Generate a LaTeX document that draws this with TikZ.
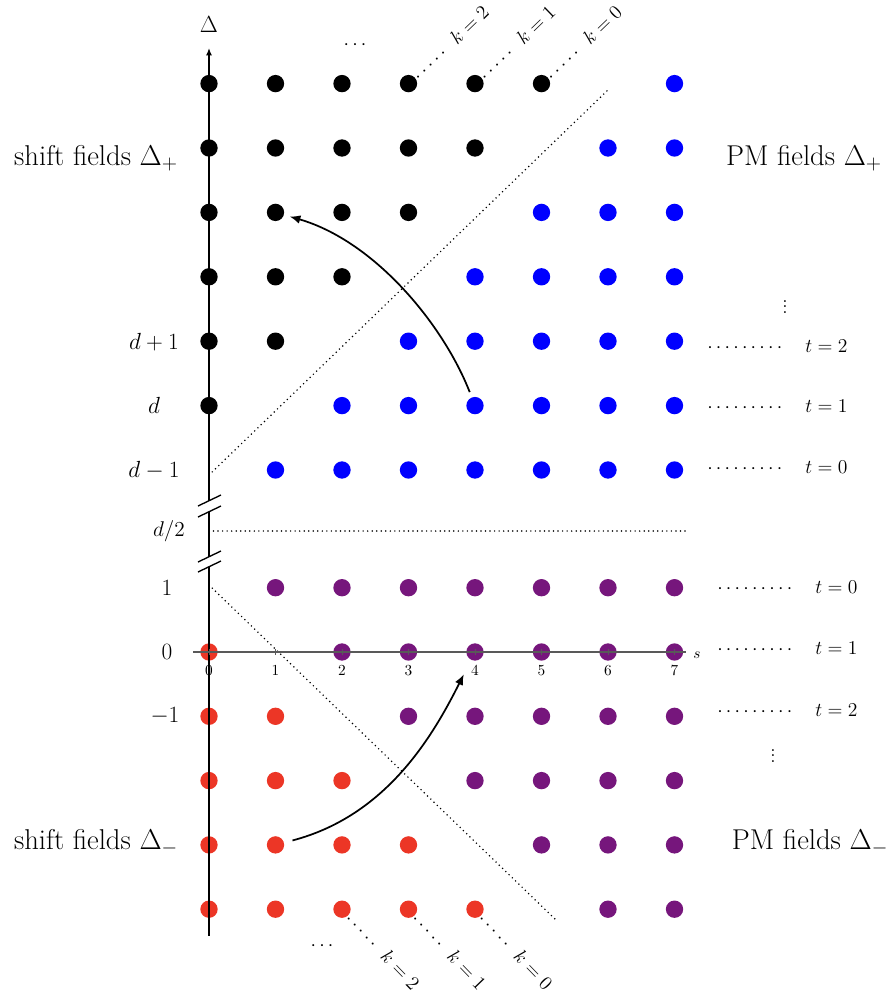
\RequirePackage{fix-cm}
\documentclass[tikz,border=0pt]{standalone}
\usetikzlibrary{arrows.meta}
\definecolor{pmblue}{RGB}{0,0,255}
\definecolor{pmpurple}{RGB}{118,22,124}
\definecolor{shred}{RGB}{236,54,38}
\pgfdeclarelayer{bg}
\pgfsetlayers{bg,main}
\tikzset{
  dotnode/.style={circle, inner sep=0pt, minimum size=13pt, draw=none},
  blackdot/.style={dotnode, fill=black},
  bluedot/.style={dotnode, fill=pmblue},
  purpledot/.style={dotnode, fill=pmpurple},
  reddot/.style={dotnode, fill=shred},
  dotline/.style={line width=1.25pt, line cap=round, dash pattern=on 0pt off 3.4pt},
  axisline/.style={line width=1pt},
  haxis/.style={line width=1pt, draw=black!65},
  curvearrow/.style={line width=1.3pt, -{Latex[length=8pt,width=6.5pt]}},
  bigtext/.style={font=\fontsize{21.5}{26}\selectfont},
  axlabel/.style={font=\fontsize{17.5}{21}\selectfont},
  smalllabel/.style={font=\fontsize{14.7}{18}\selectfont, inner sep=0pt},
  ticklabel/.style={font=\fontsize{11.5}{13}\selectfont, inner sep=0pt},
}
\begin{document}
\begin{tikzpicture}[x=0.75pt,y=-0.75pt]
\useasboundingbox (0,0) rectangle (892,1000);

% grid dots, upper part (rows d-1 ... d+5)
\foreach \r in {0,...,6}{
  \foreach \s in {0,...,7}{
    \ifnum\s<\r \node[blackdot] (u\s-\r) at ({209+66.5*\s},{470-64.4*\r}) {};\fi
    \ifnum\s>\r \node[bluedot] (u\s-\r) at ({209+66.5*\s},{470-64.4*\r}) {};\fi
  }
}
% grid dots, lower part (rows 1 ... -4)
\foreach \m in {0,...,5}{
  \foreach \s in {0,...,7}{
    \ifnum\s<\m \node[reddot] (l\s-\m) at ({209+66.5*\s},{587.7+64.3*\m}) {};\fi
    \ifnum\s>\m \node[purpledot] (l\s-\m) at ({209+66.5*\s},{587.7+64.3*\m}) {};\fi
  }
}

% k labels (under the dots)
\begin{pgfonlayer}{bg}
\node[smalllabel, rotate=44, anchor=west] (ku2) at (u3-6.center) {$\cdots\cdots\;\,k=2$};
\node[smalllabel, rotate=44, anchor=west] (ku1) at (u4-6.center) {$\cdots\cdots\;\,k=1$};
\node[smalllabel, rotate=44, anchor=west] (ku0) at (u5-6.center) {$\cdots\cdots\;\,k=0$};
\node[smalllabel, rotate=-46, anchor=west] (kl2) at (l2-5.center) {$\cdots\cdots\;\,k=2$};
\node[smalllabel, rotate=-46, anchor=west] (kl1) at (l3-5.center) {$\cdots\cdots\;\,k=1$};
\node[smalllabel, rotate=-46, anchor=west] (kl0) at (l4-5.center) {$\cdots\cdots\;\,k=0$};
\end{pgfonlayer}
\node[smalllabel] (hdotsu) at (355,45) {$\cdots$};
\node[smalllabel] (hdotsl) at (322,946) {$\cdots$};

% diagonal separating lines
\coordinate (du1) at (209,475);
\coordinate (du2) at (610,88);
\coordinate (dl1) at (209,585);
\coordinate (dl2) at (555,919);
\draw[dotline] (du1) -- (du2);
\draw[dotline] (dl1) -- (dl2);

% d/2 line
\coordinate (h1) at (209,531);
\coordinate (h2) at (685,531);
\draw[dotline] (h1) -- (h2);

% vertical axis with breaks
\coordinate (ytop) at (209,48);
\coordinate (b1) at (209,500.5);
\coordinate (b2) at (209,511.5);
\coordinate (b3) at (209,556.5);
\coordinate (b4) at (209,566.5);
\coordinate (ybot) at (209,936);
\draw[axisline, -{Latex[length=5.5pt,width=4.5pt]}] (b1) -- (ytop);
\draw[axisline] (b2) -- (b3);
\draw[axisline] (b4) -- (ybot);
\foreach \b in {b1,b2,b3,b4}{
  \draw[axisline] ([shift={(-11,5.5)}]\b) -- ([shift={(12,-5.5)}]\b);
}
\node[axlabel] (ylab) at (209,25) {$\Delta$};

% horizontal axis
\coordinate (xl) at (193,652);
\coordinate (xr) at (686,652);
\draw[haxis] (xl) -- (xr);
\foreach \s in {0,...,7}{
  \draw[haxis, line width=0.7pt] ({209+66.5*\s},649) -- ({209+66.5*\s},655);
  \node[ticklabel] (tick\s) at ({209+66.5*\s},670.5) {$\s$};
}
\node[ticklabel] (xlab) at (697,655) {$s$};

% Delta labels
\node[axlabel] (lab-dp1) at (154,341.7) {$d+1$};
\node[axlabel] (lab-d) at (154,405.5) {$d$};
\node[axlabel] (lab-dm1) at (154,470) {$d-1$};
\node[axlabel, font=\fontsize{16}{18}\selectfont] (lab-d2) at (169,531) {$d/2$};
\node[axlabel] (lab-1) at (167,587.7) {$1$};
\node[axlabel] (lab-0) at (167,652) {$0$};
\node[axlabel] (lab-m1) at (165,716) {$-1$};

% t labels
\node[smalllabel, anchor=west] (tu2) at (707,346.6) {$\cdots\cdots\cdots\quad t=2$};
\node[smalllabel, anchor=west] (tu1) at (707,406.6) {$\cdots\cdots\cdots\quad t=1$};
\node[smalllabel, anchor=west] (tu0) at (707,467.6) {$\cdots\cdots\cdots\quad t=0$};
\node[smalllabel, anchor=west] (tl0) at (717,587) {$\cdots\cdots\cdots\quad t=0$};
\node[smalllabel, anchor=west] (tl1) at (717,648) {$\cdots\cdots\cdots\quad t=1$};
\node[smalllabel, anchor=west] (tl2) at (717,710) {$\cdots\cdots\cdots\quad t=2$};
\node[smalllabel] (vdu) at (785,303) {$\vdots$};
\node[smalllabel] (vdl) at (773,752) {$\vdots$};

% big labels
\node[bigtext] (shp) at (96,158) {shift fields $\Delta_+$};
\node[bigtext] (pmp) at (804,158) {PM fields $\Delta_+$};
\node[bigtext] (shm) at (96,842) {shift fields $\Delta_-$};
\node[bigtext] (pmm) at (810,842) {PM fields $\Delta_-$};

% curved arrows
\draw[curvearrow, shorten <=4.2pt, shorten >=4.4pt] (u4-1) .. controls (443,323.9) and (374.4,241) .. (u1-4);
\draw[curvearrow, shorten <=6.5pt, shorten >=12pt] (l1-4) .. controls (385.9,815.9) and (432.3,737.1) .. (l4-1);
\end{tikzpicture}
\end{document}
